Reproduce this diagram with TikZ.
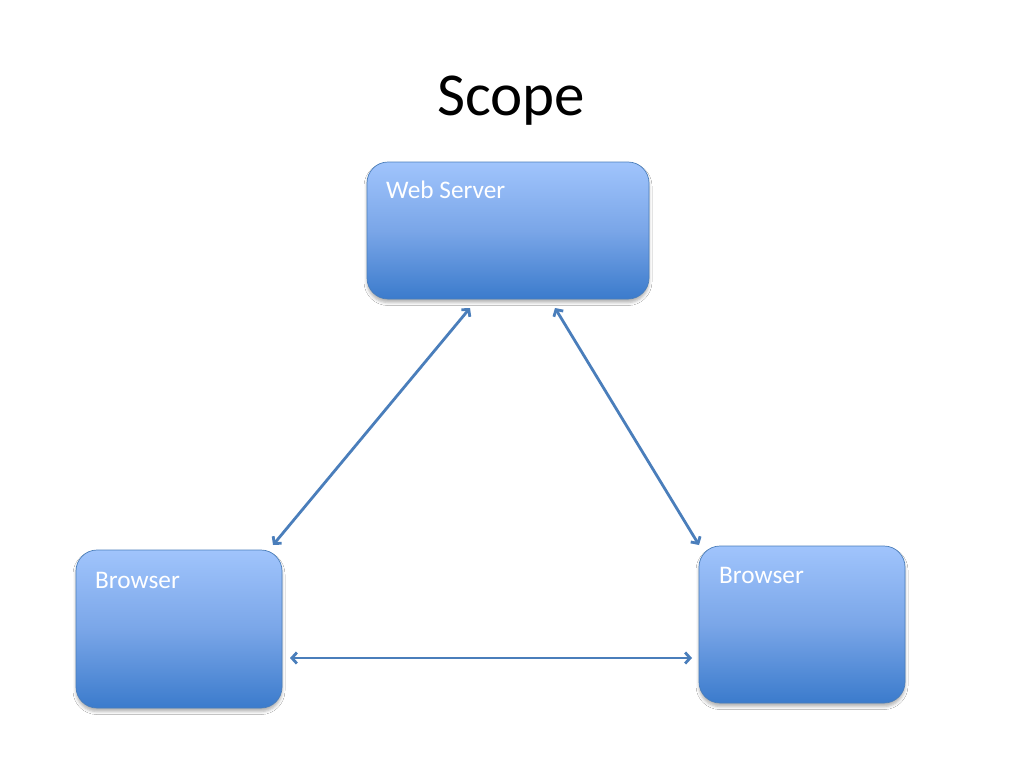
\documentclass[tikz,border=0pt]{standalone}
\usepackage{fontspec}
\setmainfont{Carlito}
\usetikzlibrary{arrows.meta,shadows.blur}
\definecolor{topc}{HTML}{A0C4FC}
\definecolor{midc}{HTML}{7AA6E8}
\definecolor{botc}{HTML}{3B7BCC}
\definecolor{edgec}{HTML}{4A7EBB}
\definecolor{arrowc}{HTML}{4A7EBB}
\tikzset{
  box/.style={rectangle, rounded corners=21pt, draw=edgec, line width=0.7pt,
    top color=topc, bottom color=botc, middle color=midc, inner sep=0pt,
    blur shadow={shadow xshift=0pt, shadow yshift=-3.5pt, shadow blur radius=3pt, shadow opacity=30}},
  boxtext/.style={anchor=base west, inner sep=0pt, text=white, font=\fontsize{25.3}{25.3}\selectfont},
  conn/.style={draw=arrowc, line width=2.8pt, {Straight Barb[length=5pt,width=11pt]}-{Straight Barb[length=5pt,width=11pt]}}
}
\begin{document}
\begin{tikzpicture}[x=1pt,y=-1pt]
\useasboundingbox (0,0) rectangle (1024,768);
\fill[white] (0,0) rectangle (1024,768);
\node[anchor=base, inner sep=0pt, font=\fontsize{61}{61}\selectfont] (title) at (511,115) {Scope};
\node[box, minimum width=282pt, minimum height=137pt] (ws) at (508,230.5) {};
\node[box, minimum width=206pt, minimum height=158pt] (bl) at (179,629) {};
\node[box, minimum width=206pt, minimum height=157pt] (br) at (802,624.5) {};
\node[boxtext] (wst) at (386,198) {Web Server};
\node[boxtext] (blt) at (95,588) {Browser};
\node[boxtext] (brt) at (719,583) {Browser};
\coordinate (a1) at (470,308);
\coordinate (a2) at (273,545);
\coordinate (b1) at (555,308);
\coordinate (b2) at (699,545);
\coordinate (c1) at (290,658);
\coordinate (c2) at (692,658);
\draw[conn] (a1) -- (a2);
\draw[conn] (b1) -- (b2);
\draw[conn] (c1) -- (c2);
\end{tikzpicture}
\end{document}
